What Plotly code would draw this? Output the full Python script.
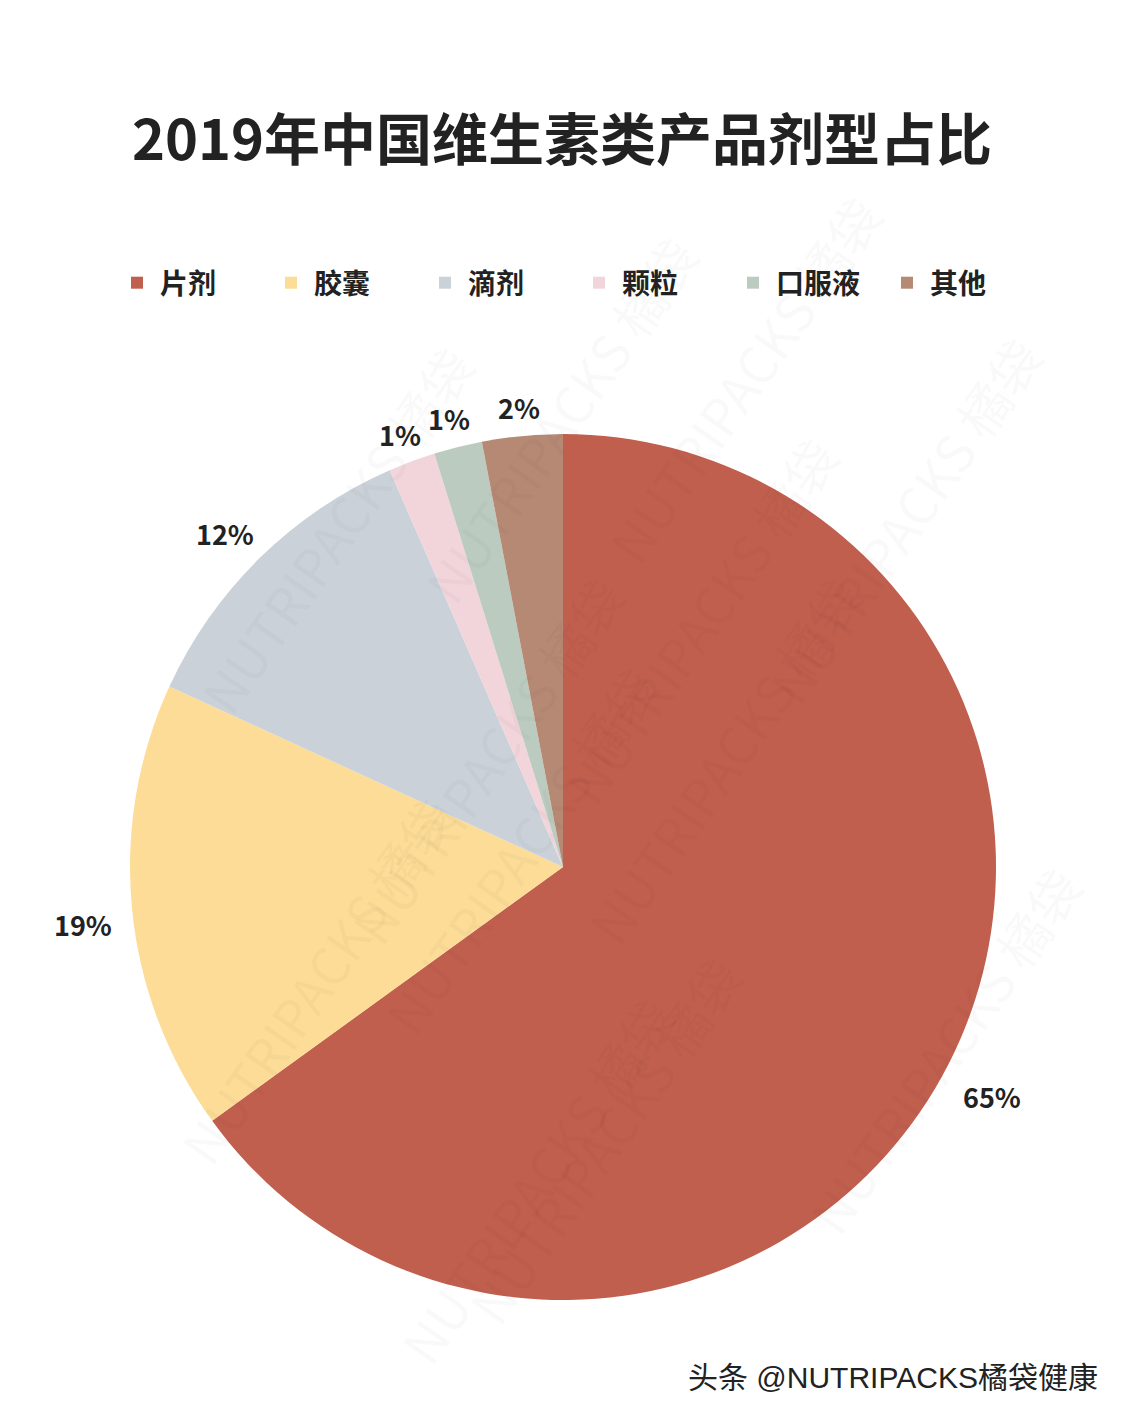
import math
import plotly.graph_objects as go

# 剂型占比 (扇区大小按图中角度读取, 标注文字按原图)
categories = ["片剂", "胶囊", "滴剂", "颗粒", "口服液", "其他"]
values = [65.0, 16.8, 11.6, 1.75, 1.8, 3.0]
label_text = ["65%", "19%", "12%", "1%", "1%", "2%"]
colors = ["#C05F4E", "#FCDC97", "#CBD1D9", "#F2D4DB", "#BCCBC0", "#B68974"]

W, H = 1125, 1415
FONT = "Noto Sans CJK SC"
OFF = 8                      # page body margin of the html
CX, CY, R = 563, 867, 433    # pie centre / radius in px


def px(x):
    return (x - OFF) / W


def py(y):
    return 1 - (y - OFF) / H


fig = go.Figure()

fig.add_trace(go.Pie(
    labels=categories,
    values=values,
    textinfo="none",
    marker=dict(colors=colors, line=dict(width=0)),
    sort=False,
    direction="clockwise",
    rotation=0,
    hole=0,
    hoverinfo="label+percent",
    domain=dict(x=[px(CX - R), px(CX + R)],
                y=[py(CY + R), py(CY - R)]),
))

# 百分比标注: 放在各扇区中线方向的外侧
ann = []
total = sum(values)
cum = 0
for v, t in zip(values, label_text):
    mid = (cum + v / 2) / total * 2 * math.pi
    cum += v
    if v > 5:
        rr, dy = 482, 10
    else:
        rr, dy = 468, 6
    lx = CX + rr * math.sin(mid)
    ly = CY - rr * math.cos(mid) + dy
    ann.append(dict(
        text="<b>" + t + "</b>", x=px(lx), y=py(ly), xref="paper", yref="paper",
        showarrow=False, xanchor="center", yanchor="middle",
        font=dict(family=FONT, size=27, color="#222222"),
    ))

# 水印
wm = []
for cx, cy in [(180, 330), (560, 220), (900, 180), (330, 760), (700, 620), (1060, 520),
               (160, 1180), (520, 1050), (880, 960), (380, 1380), (760, 1340), (1100, 1250)]:
    wm.append(dict(
        text="NUTRIPACKS 橘袋", x=px(cx), y=py(cy), xref="paper", yref="paper",
        showarrow=False, textangle=-55,
        font=dict(family=FONT, size=52, color="rgba(0,0,0,0.022)"),
    ))

fig.update_layout(
    width=W,
    height=H,
    margin=dict(l=0, r=0, t=0, b=0),
    paper_bgcolor="white",
    plot_bgcolor="white",
    title={
        'text': "<b>2019年中国维生素类产品剂型占比</b>",
        'y': py(140),
        'x': px(562),
        'xanchor': "center",
        'yanchor': 'middle',
        'font': dict(family=FONT, size=56, color="#222222"),
    },
    legend=dict(
        orientation="h",
        x=px(576), xanchor="center",
        y=py(283), yanchor="middle",
        font=dict(family=FONT, size=28, color="#222222", weight="bold"),
        itemwidth=36,
        entrywidth=103,
        traceorder="normal",
    ),
    annotations=wm + ann + [dict(
        text="头条 @NUTRIPACKS橘袋健康", x=px(1100), y=py(1377),
        xref="paper", yref="paper", xanchor="right", yanchor="middle",
        showarrow=False,
        font=dict(family="Liberation Sans, " + FONT, size=30, color="#222222"),
    )],
)

fig.write_html("out.html")
